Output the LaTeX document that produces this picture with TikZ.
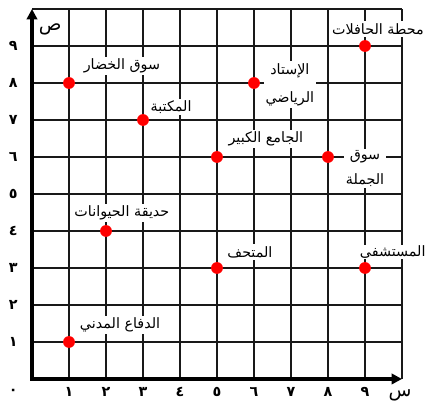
\documentclass[tikz,border=0pt]{standalone}
\usepackage{fontspec}
\newfontfamily\arabicfont[Script=Arabic]{DejaVu Sans}
\TeXXeTstate=1
\usetikzlibrary{arrows.meta}
\newcommand{\artext}[1]{{\arabicfont\beginR #1\endR}}

\begin{document}
\begin{tikzpicture}[x=1cm, y=1cm, font=\arabicfont\fontsize{11}{13}\selectfont,
  gridline/.style={line width=1.2pt, black!90},
  axis/.style={line width=2.6pt, {Triangle[length=2.8mm,width=2.8mm]}-{Triangle[length=2.8mm,width=2.8mm]}},
  spot/.style={circle, fill=red, inner sep=0pt, minimum size=3.2mm},
  place/.style={fill=white, inner sep=1.5pt, align=center},
  num/.style={font=\arabicfont\bfseries\fontsize{11}{13}\selectfont}]
\useasboundingbox (-0.865,-0.649) rectangle (10.676,10.243);
% grid and axes
\foreach \i in {1,...,10} {
  \draw[gridline] (\i,0) -- (\i,10);
  \draw[gridline] (0,\i) -- (10,\i);}
\draw[axis] (0,10) -- (0,0) -- (10,0);
\foreach \d/\v in {١/1, ٢/2, ٣/3, ٤/4, ٥/5, ٦/6, ٧/7, ٨/8, ٩/9} {
  \node[num] (xl\v) at (\v,-0.34) {\d};
  \node[num] (yl\v) at (-0.51,\v) {\d};}
\node[num] (zero) at (-0.51,-0.34) {٠};
\node[font=\arabicfont\Large] (ylab) at (0.49,9.45) {ص};
\node[font=\arabicfont\Large] (xlab) at (9.95,-0.45) {س};
% labels of the places
\node[place] (khudar-t) at (2.43,8.46) {\artext{سوق الخضار}};
\node[place] (maktaba-t) at (3.76,7.35) {\artext{المكتبة}};
\node[place] (istad-t) at (6.97,7.95) {\artext{الإستاد}\\[9pt]\artext{الرياضي}};
\node[place] (jami-t) at (6.32,6.49) {\artext{الجامع الكبير}};
\node[place] (hafilat-t) at (9.35,9.46) {\artext{محطة الحافلات}};
\node[place] (jumla-t) at (9.0,5.69) {\artext{سوق}\\[6pt]\artext{الجملة}};
\node[place] (hadiqa-t) at (2.43,4.49) {\artext{حديقة الحيوانات}};
\node[place] (mathaf-t) at (5.89,3.43) {\artext{المتحف}};
\node[place, anchor=east, inner sep=0.5pt] (mustashfa-t) at (10.66,3.43) {\artext{المستشفى}};
\node[place] (difa-t) at (2.38,1.46) {\artext{الدفاع المدني}};
% the places
\foreach \name/\x/\y in {khudar/1/8, maktaba/3/7, istad/6/8, hafilat/9/9, jami/5/6,
  jumla/8/6, hadiqa/2/4, mathaf/5/3, mustashfa/9/3, difa/1/1}
  \node[spot] (\name) at (\x,\y) {};
\end{tikzpicture}
\end{document}
